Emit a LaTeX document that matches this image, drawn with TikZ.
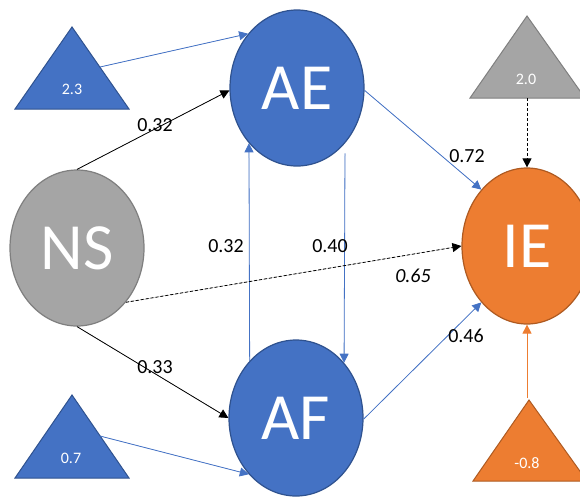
\documentclass[tikz,border=0pt]{standalone}
\usepackage{fontspec}
\setmainfont{Carlito}
\usetikzlibrary{shapes.geometric,arrows.meta}
\definecolor{cblue}{HTML}{4472C4}
\definecolor{cblueb}{HTML}{2F528F}
\definecolor{cgrey}{HTML}{A5A5A5}
\definecolor{cgreyb}{HTML}{7F7F7F}
\definecolor{corange}{HTML}{ED7D31}
\definecolor{corangeb}{HTML}{AE5A21}
\tikzset{
  var/.style={ellipse, minimum width=134pt, minimum height=156pt, inner sep=0pt, line width=1.2pt, text=white, font=\fontsize{66}{66}\selectfont},
  bluev/.style={var, fill=cblue, draw=cblueb},
  greyv/.style={var, fill=cgrey, draw=cgreyb},
  orangev/.style={var, fill=corange, draw=corangeb},
  tri/.style={line width=1pt},
  trilab/.style={text=white, font=\fontsize{16}{16}\selectfont, inner sep=0pt},
  lab/.style={font=\fontsize{20}{20}\selectfont, inner sep=0pt},
  tip/.style={-{Triangle[length=9pt,width=9pt]}},
  blk/.style={tip, line width=0.8pt, draw=black},
  bl/.style={tip, line width=0.8pt, draw=cblue, fill=cblue},
}
\begin{document}
\begin{tikzpicture}[x=1pt,y=-1pt]
\useasboundingbox (0,0) rectangle (580,496);
% triangles
\draw[tri, fill=cblue, draw=cblueb] (72,27) -- (129,109) -- (15,109) -- cycle;
\node[trilab] (t1) at (72,89) {2.3};
\coordinate (t1e) at (100,67);
\draw[tri, fill=cblue, draw=cblueb] (72,395) -- (129,478) -- (15,478) -- cycle;
\node[trilab] (t2) at (71,458) {0.7};
\coordinate (t2e) at (100,436);
\draw[tri, fill=cgrey, draw=cgreyb] (527,16) -- (585,98) -- (470,98) -- cycle;
\node[trilab] (t3) at (526,79) {2.0};
\coordinate (t3e) at (527,98);
\draw[tri, fill=corange, draw=corangeb] (529,400) -- (587,481) -- (473,481) -- cycle;
\node[trilab] (t4) at (527,463) {-0.8};
\coordinate (t4e) at (527,398);
% variables
\node[greyv] (NS) at (77,248) {NS};
\node[bluev] (AE) at (297,88) {AE};
\node[bluev] (AF) at (296,418) {AF};
\node[orangev, minimum width=130pt] (IE) at (527,246) {IE};
% connectors
\draw[bl] (t1e) -- (AE.132.7);
\draw[bl] (t2e) -- (AF.230.1);
\draw[blk, dashed, dash pattern=on 3pt off 2pt] (t3e) -- (IE.90);
\draw[tip, line width=0.8pt, draw=corange, fill=corange] (t4e) -- (IE.270);
\draw[blk, fill=black] (NS.90) -- (AE.182);
\draw[blk, fill=black] (NS.270) -- (AF.180);
\draw[bl] (AF.129.1) -- (AE.229.8);
\draw[bl, shorten <=10pt] (AE.311.4) -- (AF.49.8);
\draw[bl] (AE.358) -- (IE.129);
\draw[bl] (AF.359) -- (IE.231);
\draw[blk, fill=black, dash pattern=on 3pt off 2pt] (NS.312.7) -- (IE.180);
% labels
\node[lab] (l1) at (155,125) {0.32};
\node[lab] (l2) at (155,367) {0.33};
\node[lab] (l3) at (226,246) {0.32};
\node[lab] (l4) at (330,246) {0.40};
\node[lab] (l5) at (467,156) {0.72};
\node[lab] (l6) at (466,336) {0.46};
\node[lab, font=\fontsize{20}{20}\selectfont\itshape] (l7) at (413,276) {0.65};
\end{tikzpicture}
\end{document}
